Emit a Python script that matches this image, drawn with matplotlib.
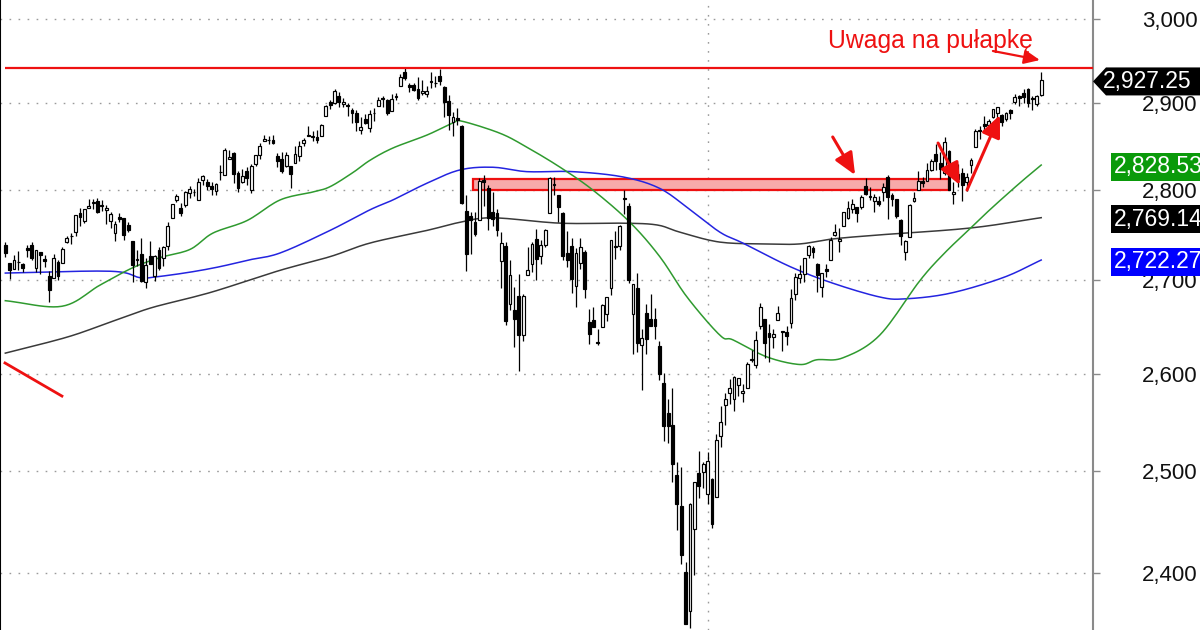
import numpy as np
import matplotlib
matplotlib.use("Agg")
import matplotlib.pyplot as plt
from matplotlib import transforms
from matplotlib.patches import Polygon, Rectangle
from matplotlib.ticker import FixedLocator, NullLocator

plt.rcParams['font.family'] = ['Liberation Sans', 'DejaVu Sans']

# ---------------- data (daily bars, 14 May 2018 - 23 Apr 2019) ----------------
opens = [
    # May 2018
    2738.3, 2718.6, 2712.6, 2719.7, 2717.4, 2735.4, 2738.3, 2713.0, 2730.9, 2723.6, 2705.1, 2702.4, 2720.0,
    # Jun
    2718.7, 2741.7, 2748.5, 2753.3, 2774.8, 2765.8, 2780.2, 2785.6, 2787.9, 2783.2, 2777.8, 2765.8, 2752.0,
    2770.0, 2769.3, 2760.8, 2742.9, 2722.1, 2728.5, 2698.7, 2727.1,
    # Jul
    2704.9, 2733.3, 2724.2, 2737.7, 2768.5, 2788.6, 2779.8, 2783.1, 2796.9, 2797.4, 2789.3, 2811.4, 2809.4,
    2804.6, 2799.2, 2820.7, 2817.7, 2835.5, 2842.4, 2819.0, 2809.7,
    # Aug
    2821.2, 2800.5, 2829.6, 2840.3, 2855.9, 2856.8, 2857.2, 2838.9, 2835.5, 2827.9, 2827.9, 2831.4, 2838.3,
    2853.9, 2861.5, 2861.0, 2860.3, 2862.4, 2884.7, 2901.5, 2900.6, 2908.9, 2898.4,
    # Sep
    2897.0, 2891.6, 2888.6, 2868.3, 2881.4, 2871.6, 2888.3, 2896.9, 2906.4, 2903.8, 2890.7, 2906.6, 2919.7,
    2936.8, 2921.8, 2921.8, 2917.0, 2911.7, 2910.6,
    # Oct
    2926.3, 2923.8, 2931.7, 2919.4, 2902.5, 2877.5, 2882.5, 2873.9, 2776.9, 2770.5, 2763.8, 2767.1, 2811.7,
    2802.0, 2775.7, 2773.9, 2721.0, 2737.9, 2674.9, 2667.9, 2682.7, 2640.7, 2705.6,
    # Nov
    2717.6, 2745.5, 2726.4, 2738.4, 2774.1, 2806.4, 2794.1, 2773.9, 2730.1, 2737.9, 2693.5, 2718.5, 2730.7,
    2654.6, 2657.7, 2633.4, 2650.0, 2663.8, 2691.5, 2737.0, 2737.8,
    # Dec
    2790.5, 2782.4, 2663.5, 2691.3, 2630.9, 2664.4, 2658.2, 2658.7, 2629.7, 2590.8, 2559.9, 2547.1, 2496.8,
    2465.4, 2400.6, 2363.1, 2442.5, 2498.8, 2498.9,
    # Jan 2019
    2477.0, 2491.9, 2474.3, 2535.6, 2568.1, 2580.0, 2573.5, 2588.1, 2580.3, 2585.1, 2614.8, 2609.3, 2651.3,
    2657.9, 2643.5, 2638.8, 2657.4, 2645.0, 2644.9, 2653.6, 2685.5,
    # Feb
    2702.3, 2706.5, 2728.3, 2735.1, 2717.5, 2692.4, 2712.4, 2722.6, 2750.3, 2743.5, 2760.2, 2769.3, 2779.1,
    2780.7, 2780.7, 2804.4, 2792.4, 2787.5, 2788.1,
    # Mar
    2798.2, 2814.4, 2794.4, 2790.3, 2766.5, 2730.8, 2747.6, 2787.3, 2799.8, 2810.4, 2810.8, 2822.6, 2840.8,
    2831.3, 2819.7, 2844.5, 2796.0, 2812.7, 2819.7, 2809.4, 2828.3,
    # Apr
    2848.6, 2868.2, 2876.1, 2874.0, 2884.2, 2888.5, 2886.6, 2881.4, 2891.9, 2900.9, 2908.3, 2912.3, 2916.0,
    2904.8, 2898.8, 2910.0,
]
highs = [
    2742.1, 2718.6, 2727.8, 2731.9, 2719.5, 2739.2, 2742.2, 2733.3, 2731.0, 2727.4, 2710.7, 2729.3, 2722.5,
    2736.9, 2749.2, 2752.6, 2772.4, 2779.9, 2779.4, 2790.2, 2789.8, 2791.5, 2789.1, 2782.8, 2775.0, 2765.1,
    2774.9, 2769.3, 2764.2, 2742.9, 2732.9, 2746.1, 2724.3, 2743.3,
    2727.3, 2736.6, 2737.8, 2764.4, 2784.6, 2795.6, 2785.9, 2799.2, 2804.5, 2801.2, 2814.2, 2816.8, 2812.1,
    2809.7, 2808.6, 2829.0, 2848.0, 2845.6, 2843.2, 2821.7, 2824.5,
    2825.8, 2829.9, 2840.4, 2853.3, 2863.4, 2862.4, 2862.5, 2842.2, 2843.4, 2843.1, 2827.9, 2850.5, 2855.6,
    2859.8, 2873.2, 2867.5, 2868.8, 2876.2, 2898.3, 2903.8, 2916.5, 2912.5, 2906.3,
    2900.2, 2894.2, 2892.1, 2883.8, 2886.9, 2892.5, 2894.7, 2906.8, 2908.3, 2904.6, 2911.2, 2912.4, 2934.8,
    2940.9, 2923.8, 2923.9, 2931.2, 2927.2, 2920.5,
    2937.1, 2931.4, 2939.9, 2919.8, 2909.6, 2889.5, 2894.8, 2874.0, 2795.1, 2775.8, 2776.0, 2813.5, 2816.9,
    2806.0, 2797.8, 2778.9, 2753.6, 2742.6, 2722.7, 2692.4, 2706.9, 2685.4, 2736.7,
    2741.7, 2756.6, 2744.3, 2756.8, 2815.2, 2814.8, 2794.1, 2776.0, 2754.6, 2746.8, 2735.4, 2746.8, 2733.2,
    2669.4, 2670.7, 2647.6, 2674.4, 2682.5, 2744.0, 2753.8, 2760.9,
    2800.2, 2785.9, 2696.1, 2708.5, 2647.5, 2674.4, 2685.4, 2670.2, 2635.1, 2601.1, 2574.0, 2585.3, 2509.6,
    2504.4, 2410.3, 2467.8, 2489.1, 2520.3, 2509.2,
    2519.5, 2493.1, 2538.1, 2566.2, 2579.8, 2595.3, 2597.8, 2596.3, 2589.3, 2613.1, 2625.8, 2645.1, 2675.5,
    2657.9, 2653.2, 2647.2, 2672.4, 2645.0, 2650.9, 2690.4, 2708.0,
    2716.7, 2725.0, 2739.0, 2738.1, 2719.3, 2708.1, 2718.1, 2748.2, 2761.9, 2757.9, 2775.7, 2787.3, 2789.9,
    2781.5, 2794.2, 2813.5, 2803.1, 2795.8, 2793.7,
    2808.0, 2816.9, 2796.4, 2790.3, 2767.3, 2744.1, 2784.0, 2798.3, 2821.2, 2815.0, 2830.7, 2835.4, 2852.4,
    2843.5, 2860.3, 2846.2, 2809.8, 2829.9, 2825.6, 2819.7, 2836.0,
    2869.4, 2872.9, 2885.3, 2881.3, 2893.2, 2896.0, 2886.9, 2889.7, 2893.4, 2910.5, 2909.6, 2916.1, 2918.0,
    2908.4, 2909.5, 2936.3,
]
lows = [
    2725.5, 2701.9, 2712.2, 2711.4, 2709.2, 2725.7, 2721.9, 2709.5, 2707.4, 2714.9, 2676.8, 2702.4, 2700.7,
    2718.7, 2740.5, 2739.5, 2748.5, 2760.2, 2763.6, 2780.2, 2778.8, 2774.7, 2776.5, 2761.7, 2757.1, 2743.2,
    2763.9, 2744.4, 2752.7, 2698.7, 2715.6, 2698.5, 2691.9, 2718.0,
    2698.9, 2711.2, 2716.0, 2733.5, 2768.5, 2786.2, 2770.8, 2781.5, 2791.7, 2793.4, 2789.2, 2805.9, 2799.8,
    2795.1, 2795.1, 2811.1, 2817.7, 2835.3, 2808.3, 2798.1, 2808.1,
    2805.9, 2796.3, 2827.4, 2835.9, 2855.9, 2853.1, 2852.7, 2825.8, 2819.9, 2826.6, 2802.5, 2831.4, 2833.7,
    2850.6, 2861.3, 2856.1, 2854.0, 2862.4, 2884.7, 2893.5, 2898.4, 2895.2, 2895.8,
    2885.1, 2876.9, 2867.3, 2864.1, 2875.9, 2866.8, 2879.2, 2896.4, 2895.8, 2886.2, 2890.4, 2903.8, 2919.7,
    2927.1, 2912.6, 2913.7, 2903.3, 2909.3, 2907.5,
    2917.9, 2919.4, 2921.4, 2883.9, 2869.3, 2862.1, 2874.3, 2784.9, 2710.5, 2729.4, 2749.0, 2766.9, 2781.8,
    2755.2, 2760.3, 2749.2, 2691.4, 2651.9, 2667.8, 2628.2, 2603.5, 2635.3, 2705.6,
    2708.9, 2700.4, 2717.9, 2737.1, 2774.1, 2795.0, 2764.2, 2722.0, 2715.0, 2685.8, 2670.8, 2712.2, 2681.1,
    2631.5, 2649.8, 2631.1, 2650.0, 2655.9, 2684.4, 2722.9, 2732.8,
    2773.4, 2697.2, 2621.5, 2623.1, 2583.2, 2621.3, 2650.3, 2637.3, 2593.8, 2530.5, 2528.7, 2489.0, 2441.2,
    2408.6, 2351.1, 2346.6, 2397.9, 2472.9, 2482.8,
    2467.5, 2444.0, 2474.3, 2524.6, 2547.6, 2568.9, 2562.0, 2577.4, 2570.4, 2585.1, 2612.7, 2606.4, 2647.6,
    2617.3, 2612.9, 2627.0, 2657.3, 2624.1, 2631.1, 2648.3, 2678.7,
    2696.9, 2698.8, 2724.0, 2724.2, 2687.3, 2681.8, 2703.9, 2722.6, 2748.6, 2731.2, 2760.2, 2767.3, 2774.1,
    2764.6, 2779.1, 2795.0, 2789.5, 2775.1, 2782.5,
    2787.4, 2767.7, 2782.0, 2768.7, 2739.1, 2722.3, 2747.6, 2786.7, 2799.8, 2803.5, 2810.8, 2822.0, 2823.3,
    2812.4, 2817.4, 2800.5, 2785.0, 2804.0, 2787.7, 2798.8, 2819.2,
    2848.6, 2858.8, 2865.2, 2867.1, 2883.0, 2880.8, 2873.3, 2879.1, 2882.0, 2898.4, 2896.5, 2900.7, 2895.4,
    2891.9, 2896.4, 2908.5,
]
closes = [
    2730.1, 2711.5, 2722.5, 2720.1, 2713.0, 2733.0, 2724.4, 2733.3, 2727.8, 2721.3, 2689.9, 2724.0, 2705.3,
    2734.6, 2746.9, 2748.8, 2772.4, 2770.4, 2779.0, 2782.0, 2786.9, 2775.6, 2782.5, 2779.7, 2773.8, 2762.6,
    2767.3, 2749.8, 2754.9, 2717.1, 2723.1, 2699.6, 2716.3, 2718.4,
    2726.7, 2713.2, 2736.6, 2759.8, 2784.2, 2793.8, 2774.0, 2798.3, 2801.3, 2798.4, 2809.6, 2815.6, 2804.5,
    2801.8, 2807.0, 2820.4, 2846.1, 2837.4, 2818.8, 2802.6, 2816.3,
    2813.4, 2827.2, 2840.4, 2850.4, 2858.5, 2857.7, 2853.6, 2833.3, 2821.9, 2840.0, 2818.4, 2840.7, 2850.1,
    2857.1, 2863.0, 2861.8, 2857.0, 2874.7, 2896.7, 2897.5, 2914.0, 2901.1, 2901.5,
    2896.7, 2888.6, 2878.1, 2871.7, 2877.1, 2887.9, 2888.9, 2904.2, 2905.0, 2888.8, 2904.3, 2908.0, 2930.8,
    2929.7, 2919.4, 2915.6, 2906.0, 2914.0, 2914.0,
    2924.6, 2923.4, 2925.5, 2901.6, 2885.6, 2884.4, 2880.3, 2785.7, 2728.4, 2767.1, 2750.8, 2809.9, 2809.2,
    2768.8, 2767.8, 2755.9, 2740.7, 2656.1, 2705.6, 2658.7, 2641.3, 2682.6, 2711.7,
    2740.4, 2723.1, 2738.3, 2755.5, 2813.9, 2806.8, 2781.0, 2726.2, 2722.2, 2701.6, 2730.2, 2736.3, 2690.7,
    2641.9, 2649.9, 2632.6, 2673.5, 2682.2, 2743.8, 2737.8, 2760.2,
    2790.4, 2700.1, 2696.0, 2633.1, 2637.7, 2636.8, 2651.1, 2650.5, 2600.0, 2545.9, 2546.2, 2507.0, 2467.4,
    2416.6, 2351.1, 2467.7, 2488.8, 2485.7, 2506.9,
    2510.0, 2447.9, 2531.9, 2549.7, 2574.4, 2585.0, 2596.6, 2596.3, 2582.6, 2610.3, 2616.1, 2636.0, 2670.7,
    2632.9, 2638.7, 2642.3, 2664.8, 2643.9, 2640.0, 2681.1, 2704.1,
    2706.5, 2724.9, 2737.7, 2731.6, 2706.1, 2707.9, 2709.8, 2744.7, 2753.0, 2745.7, 2775.6, 2779.8, 2784.7,
    2774.9, 2792.7, 2796.1, 2793.9, 2792.4, 2784.5,
    2803.7, 2792.8, 2789.7, 2771.5, 2748.9, 2743.1, 2783.3, 2791.5, 2810.9, 2808.5, 2822.5, 2832.9, 2832.6,
    2824.2, 2854.9, 2800.7, 2798.4, 2818.5, 2805.4, 2815.4, 2834.4,
    2867.2, 2867.2, 2873.4, 2879.4, 2892.7, 2895.8, 2878.2, 2888.2, 2888.3, 2907.4, 2905.6, 2907.1, 2900.5,
    2905.0, 2908.0, 2927.25,
]
bars_2018 = 160          # number of 2018 bars -> year separator

# moving averages (bar index, value)
ma50_idx = [0, 12.9, 21.6, 29.1, 35.3, 42.1, 47.3, 55.1, 62.6, 70.1, 74.0, 79.2, 83.1, 88.3, 96.1, 102, 104,
            112.7, 118.8, 126.4, 133.9, 142.3, 149.1, 155.3, 162.8, 165.8, 173.5, 181.0, 184.9, 190.8, 199.2,
            208.4, 214, 219.8, 224.3, 231.1, 236]
ma50_val = [2678, 2672, 2695, 2714, 2725, 2734, 2752, 2766, 2789, 2798, 2804, 2820, 2834, 2848, 2863, 2877, 2879,
            2865, 2849, 2826, 2800, 2764, 2726, 2682, 2641, 2636, 2618, 2610, 2615, 2617, 2641,
            2700, 2730, 2757, 2778, 2808, 2828.53]
ma100_idx = [0, 23.9, 30.7, 34.6, 42.1, 48.9, 55.1, 62.6, 74.0, 83.1, 88.3, 96.1, 103.6, 111.1, 118.8, 129.3,
             140.7, 149.1, 156.0, 162.8, 168.0, 178.8, 188.5, 199.2, 205.0, 215.2, 227.3, 236]
ma100_val = [2708, 2710, 2703, 2704, 2709, 2715, 2722, 2730, 2755, 2778, 2789, 2808, 2823, 2826, 2821, 2821,
             2815, 2802, 2778, 2753, 2741, 2715, 2697, 2682, 2680, 2686, 2703, 2722.27]
ma200_idx = [0, 14.1, 23.9, 33.0, 42.1, 48.9, 62.6, 74.0, 83.1, 96.1, 103.6, 111.1, 126.4, 140.7, 148.5, 153.7,
             162.8, 173.5, 181.0, 188.5, 199.2, 219.8, 236]
ma200_val = [2622, 2639, 2655, 2670, 2681, 2690, 2711, 2726, 2741, 2755, 2764, 2769, 2763, 2763, 2761, 2753,
             2742, 2740, 2740, 2745.5, 2750, 2757.6, 2769.14]

last_price = 2927.25
resistance = 2940.9
zone_low, zone_high = 2800.0, 2813.0
zone_start, zone_end = 106.6, 215.0
y_ticks = [2400, 2500, 2600, 2700, 2800, 2900, 3000]
note_text = "Uwaga na pułapkę"

# ---------------- figure ----------------
W, H = 1200, 630
AX_RIGHT = 1093
ymin, ymax = 2345.1, 3023.1
RED = '#ee1111'

fig = plt.figure(figsize=(W / 100, H / 100), dpi=100)
ax = fig.add_axes([0, 0, AX_RIGHT / W, 1])
ax.set_yscale('log')
ax.set_ylim(ymin, ymax)
ax.set_xlim(-1.21, 247.8)
K = H / np.log(ymax / ymin)          # pixels per unit of ln(price)

o = np.array(opens); h = np.array(highs); l = np.array(lows); c = np.array(closes)
x = np.arange(len(c))
up = c >= o


def smooth_curve(xs, ys, n=12):
    """Catmull-Rom curve through the given points (drawing only)."""
    xs = np.asarray(xs, float); ys = np.asarray(ys, float)
    P = np.column_stack([xs, ys])
    P = np.vstack([2 * P[0] - P[1], P, 2 * P[-1] - P[-2]])
    out = []
    t = np.linspace(0, 1, n, endpoint=False)[:, None]
    for i in range(1, len(P) - 2):
        p0, p1, p2, p3 = P[i - 1], P[i], P[i + 1], P[i + 2]
        seg = 0.5 * ((2 * p1) + (-p0 + p2) * t + (2 * p0 - 5 * p1 + 4 * p2 - p3) * t ** 2
                     + (-p0 + 3 * p1 - 3 * p2 + p3) * t ** 3)
        out.append(seg)
    out.append(P[-2][None, :])
    out = np.vstack(out)
    return out[:, 0], out[:, 1]


# grid
for v in y_ticks:
    ax.axhline(v, color='#9a9a9a', lw=1.0, ls=(0, (1.2, 5.3)), zorder=0)
ax.axvline(bars_2018, color='#9a9a9a', lw=1.0, ls=(0, (1.2, 5.3)), zorder=0)

# support/resistance zone
ax.add_patch(Rectangle((zone_start, zone_low), zone_end - zone_start, zone_high - zone_low,
                       facecolor='#f7aaaa', edgecolor='#ee1111', lw=1.6, zorder=1))

# moving averages
for xs_, ys_, col in [(ma200_idx, ma200_val, '#3a3a3a'),
                      (ma100_idx, ma100_val, '#2424e0'),
                      (ma50_idx, ma50_val, '#2f9a2f')]:
    sx, sy = smooth_curve(xs_, ys_)
    ax.plot(sx, sy, color=col, lw=1.1, zorder=2)

# candles
ax.vlines(x, l, h, color='black', lw=0.9, zorder=3)
bottom = np.minimum(o, c)
height = np.maximum(np.abs(c - o), 0.7)
ax.bar(x[up], height[up], bottom=bottom[up], width=0.64, facecolor='white', edgecolor='black', lw=0.85, zorder=4)
ax.bar(x[~up], height[~up], bottom=bottom[~up], width=0.64, facecolor='black', edgecolor='black', lw=0.85, zorder=4)

# resistance line
ax.plot([0, 247.8], [resistance, resistance], color=RED, lw=1.6, zorder=5, solid_capstyle='butt')

# red trend line bottom-left
ax.plot([-0.07, 12.9], [2611.6, 2577.0], color=RED, lw=2.0, zorder=5)

# arrows
def arrow(p0, p1, ms=14, lw=2.2):
    ax.annotate('', xy=p1, xytext=p0,
                arrowprops=dict(arrowstyle='-|>,head_length=0.95,head_width=0.42', color=RED,
                                lw=lw, mutation_scale=ms, shrinkA=0, shrinkB=0), zorder=6)

arrow((188.5, 2860.7), (193.6, 2817.2))
arrow((212.5, 2853.7), (217.5, 2805.8))
arrow((219.1, 2800.2), (226.6, 2886.1))
arrow((225.0, 2961.6), (235.7, 2950.8), ms=10, lw=1.6)

ax.text(187.4, 2965.1, note_text, color=RED, fontsize=17.8, va='baseline', ha='left', zorder=6)

# axes styling
for s in ['top', 'bottom']:
    ax.spines[s].set_visible(False)
ax.spines['left'].set_color('black')
ax.spines['left'].set_linewidth(1.5)
ax.spines['right'].set_color('#8a8a8a')
ax.spines['right'].set_linewidth(1.5)
ax.xaxis.set_major_locator(NullLocator())
ax.xaxis.set_minor_locator(NullLocator())
ax.yaxis.set_major_locator(FixedLocator(y_ticks))
ax.yaxis.set_minor_locator(NullLocator())
ax.yaxis.tick_right()
ax.set_yticklabels([f"{v:,}" for v in y_ticks])
ax.tick_params(axis='y', which='major', direction='out', length=5, width=1, color='#8a8a8a',
               labelsize=16, labelcolor='#111111', pad=70.5)
for t in ax.get_yticklabels():
    t.set_horizontalalignment('right')

# value badges on the price axis
blend = transforms.blended_transform_factory(fig.transFigure, ax.transData)

def py(p, dpx):
    """price shifted by dpx pixels (positive = up)"""
    return p * np.exp(dpx / K)

def badge(value, color, arrow_tip=False, text_x=1114):
    top = py(value, 12.5)
    bot = py(value, -15.5)
    mid = py(value, -1.5)
    if arrow_tip:
        verts = [(AX_RIGHT / W, mid), (1106 / W, top), (1.02, top), (1.02, bot), (1106 / W, bot)]
    else:
        verts = [(1111 / W, top), (1.02, top), (1.02, bot), (1111 / W, bot)]
    ax.add_patch(Polygon(verts, closed=True, transform=blend, facecolor=color, edgecolor='none',
                         clip_on=False, zorder=10))
    ax.text(text_x / W, mid, f"{value:,.2f}", transform=blend, color='white', fontsize=16.5,
            ha='left', va='center', clip_on=False, zorder=11)

badge(last_price, 'black', arrow_tip=True, text_x=1103)
badge(ma50_val[-1], '#0a9a0a')
badge(ma200_val[-1], 'black')
badge(ma100_val[-1], '#0000ff')

fig.savefig('out.png', dpi=100)
